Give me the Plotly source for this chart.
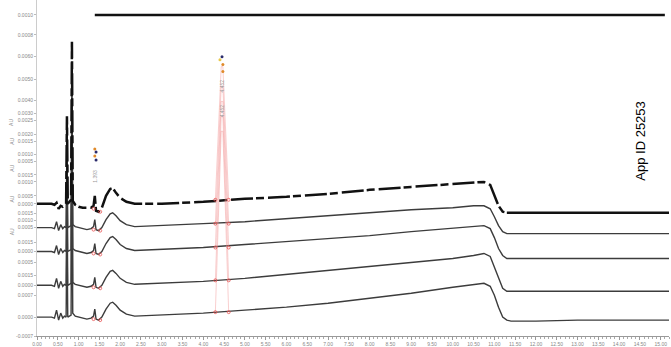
import plotly.graph_objects as go

# ---- data (retention time in min, detector response in plot units) ----
time_min = [0.00, 0.35, 0.42, 0.47, 0.52, 0.57, 0.62, 0.66, 0.70, 0.72, 0.74, 0.78, 0.82, 0.84, 0.86,
            0.92, 1.00, 1.10, 1.20, 1.30, 1.36, 1.39, 1.42, 1.48, 1.56, 1.66, 1.76, 1.82, 1.90, 2.00,
            2.15, 2.35, 3.00, 4.00, 5.00, 6.00, 7.00, 8.00, 9.00, 10.00, 10.50, 10.75, 10.90, 11.00,
            11.10, 11.20, 11.30, 11.40, 12.00, 13.00, 14.00, 15.20]

inj_a = [132, 132, 131, 133, 127, 130, 129, 131, 132, 220, 132, 134, 136, 295, 135,
         131, 129, 128, 128, 128, 130, 140, 125, 124, 128, 140, 147, 148, 143, 138,
         134, 132, 132, 134, 137, 139, 142, 146, 149, 152, 154, 154, 151, 141,
         130, 124, 123, 123, 123, 123, 123, 123]
inj_b = [108, 108, 107, 114, 105, 111, 107, 109, 108, 197, 108, 109, 110, 271, 111,
         109, 108, 107, 106, 107, 109, 116, 106, 105, 108, 116, 122, 123, 120, 115,
         111, 109, 110, 112, 114, 117, 120, 123, 126, 128, 130, 130, 127, 119,
         110, 104, 102, 102, 102, 102, 102, 102]
inj_c = [84, 84, 83, 90, 81, 87, 83, 85, 84, 172, 84, 85, 86, 237, 87,
         85, 84, 83, 82, 83, 85, 92, 82, 81, 84, 92, 98, 99, 96, 91,
         87, 85, 86, 88, 91, 94, 97, 100, 104, 107, 109, 110, 107, 98,
         87, 80, 77, 77, 77, 77, 77, 77]
inj_d = [50, 50, 49, 57, 47, 54, 49, 51, 50, 142, 50, 51, 52, 212, 53,
         51, 50, 49, 48, 49, 51, 58, 48, 47, 50, 58, 64, 65, 62, 57,
         53, 51, 52, 54, 57, 61, 65, 69, 73, 77, 80, 82, 79, 68,
         56, 47, 44, 44, 44, 44, 44, 44]
inj_e = [18, 18, 17, 25, 15, 22, 17, 19, 18, 110, 18, 19, 20, 190, 22,
         19, 18, 17, 16, 17, 19, 26, 16, 15, 18, 26, 32, 33, 30, 25,
         21, 19, 20, 22, 25, 28, 32, 37, 42, 48, 51, 52, 49, 40,
         28, 18, 15, 14, 14, 15, 15, 15]

# main peak (integrated, drawn in red)
peak_time = [4.29, 4.43, 4.47, 4.61]
peak_a = [136, 270, 270, 136]
peak_b = [112, 250, 250, 112]
peak_c = [88, 235, 235, 88]
peak_d = [55, 220, 220, 55]
peak_e = [23, 205, 205, 23]

# integration marks (start / end of peaks)
mark_time = [1.36, 1.52, 4.29, 4.61, 1.36, 1.52, 4.29, 4.61, 1.36, 1.52, 4.29, 4.61,
             1.36, 1.52, 4.29, 4.61, 1.36, 1.52, 4.29, 4.61]
mark_val = [127, 124, 136, 136, 106, 105, 112, 112, 82, 81, 88, 88,
            48, 47, 55, 55, 16, 15, 23, 23]

# peak label dots
label_time = [4.45, 4.40, 4.47, 4.47, 1.39, 1.42, 1.39, 1.42]
label_val = [280, 277, 272, 265, 187, 184, 180, 176]
label_col = ["#2b2b6b", "#e8c84a", "#e08a2a", "#e08a2a", "#e08a2a", "#2b2b6b", "#e08a2a", "#2b2b6b"]

# top reference line
top_time = [1.39, 15.10]
top_val = [322, 322]

# y tick labels
ytick_vals = [322, 302, 280, 257, 236, 223, 216, 202, 195, 182, 175, 161, 154, 140, 132,
              122, 115, 108, 93, 84, 73, 60, 50, 40, 18, -1]
ytick_text = ["0.0010", "0.0008", "0.0060", "0.0050", "0.0040", "0.0030", "0.0025", "0.0020",
              "0.0015", "0.0010", "0.0005", "0.0015", "0.0010", "0.0005", "0.0000", "0.0015",
              "0.0010", "0.0005", "0.0015", "0.0000", "0.0005", "0.0015", "0.0000", "0.0007",
              "0.0000", "-0.0007"]

xtick_vals = [i * 0.5 for i in range(31)]
xtick_text = ["%.2f" % v for v in xtick_vals]

au_pos = [214, 195, 168, 137, 104]

fig = go.Figure()

line_col = "#3c3c3c"
for vals in [inj_e, inj_d, inj_c, inj_b]:
    fig.add_trace(go.Scatter(x=time_min, y=vals, mode="lines",
                             line=dict(color=line_col, width=1.4), hoverinfo="skip"))

split = time_min.index(11.30)
fig.add_trace(go.Scatter(x=time_min[:split + 1], y=inj_a[:split + 1], mode="lines",
                         line=dict(color="#111", width=2.5, dash="22px,3px,8px,4px"),
                         hoverinfo="skip"))
fig.add_trace(go.Scatter(x=time_min[split:], y=inj_a[split:], mode="lines",
                         line=dict(color="#111", width=2.5), hoverinfo="skip"))

for pv in [peak_a, peak_b, peak_c, peak_d, peak_e]:
    fig.add_trace(go.Scatter(x=peak_time, y=pv, mode="lines",
                             line=dict(color="rgba(240,140,140,0.6)", width=0.7), hoverinfo="skip"))

fig.add_trace(go.Scatter(x=mark_time, y=mark_val, mode="markers",
                         marker=dict(color="rgba(0,0,0,0)", size=3,
                                     line=dict(color="#e85050", width=0.8)),
                         hoverinfo="skip"))
fig.add_trace(go.Scatter(x=label_time, y=label_val, mode="markers",
                         marker=dict(color=label_col, size=3), hoverinfo="skip"))

fig.add_trace(go.Scatter(x=top_time, y=top_val, mode="lines",
                         line=dict(color="#111", width=2.5), hoverinfo="skip"))

annotations = []
for p in au_pos:
    annotations.append(dict(x=-0.048, xref="paper", y=p, yref="y", text="AU",
                            showarrow=False, textangle=-90,
                            font=dict(size=5, color="#888", family="Arial")))
for yv in [250, 225]:
    annotations.append(dict(x=4.45, y=yv, text="4.452", showarrow=False, textangle=-90,
                            font=dict(size=5, color="#999", family="Arial")))
for yv in [160]:
    annotations.append(dict(x=1.39, y=yv, text="1.393", showarrow=False, textangle=-90,
                            font=dict(size=5, color="#999", family="Arial")))
annotations.append(dict(x=0.97, xref="paper", y=195, yref="y", text="App ID 25253",
                        showarrow=False, textangle=-90,
                        font=dict(size=13, color="#000", family="Liberation Sans, Arial")))

fig.update_layout(
    width=671, height=347,
    margin=dict(l=37, r=2, t=0, b=9),
    paper_bgcolor="white", plot_bgcolor="white",
    showlegend=False,
    annotations=annotations,
    xaxis=dict(range=[0, 15.2], tickvals=xtick_vals, ticktext=xtick_text,
               showgrid=False, zeroline=False, showline=True, linecolor="#999", linewidth=1,
               ticks="outside", ticklen=3, tickcolor="#999",
               minor=dict(ticks="outside", ticklen=2, tickcolor="#aaa", dtick=0.1),
               tickfont=dict(size=5, color="#888", family="Arial"), tickangle=0),
    yaxis=dict(range=[-1, 337], tickvals=ytick_vals, ticktext=ytick_text,
               showgrid=False, zeroline=False, showline=True, linecolor="#ccc", linewidth=1,
               ticks="outside", ticklen=2, tickcolor="#bbb",
               tickfont=dict(size=5, color="#888", family="Arial")),
)

fig.write_html("out.html")
